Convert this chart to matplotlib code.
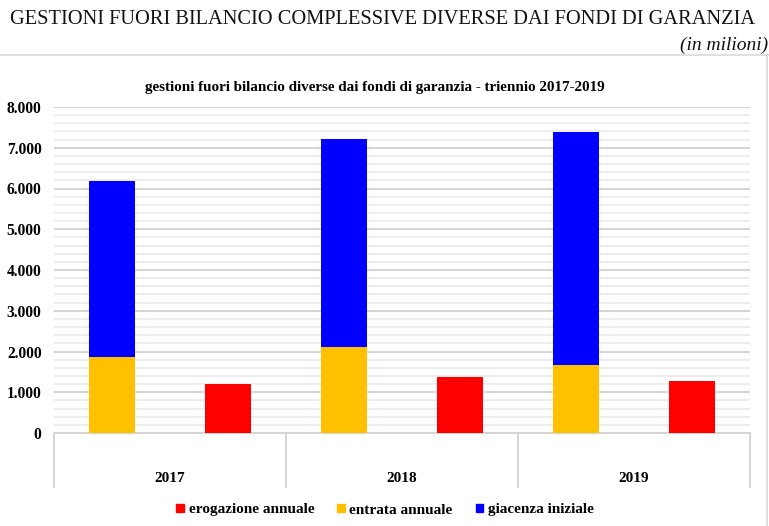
import matplotlib
matplotlib.use("Agg")
import matplotlib.pyplot as plt
from matplotlib.lines import Line2D
from matplotlib.patches import Patch

# Data (millions)
years = ["2017", "2018", "2019"]
entrata_annuale = [1855, 2118, 1659]
giacenza_iniziale = [4339, 5105, 5736]
erogazione_annuale = [1201, 1373, 1284]
y_ticks = [0, 1000, 2000, 3000, 4000, 5000, 6000, 7000, 8000]
y_tick_labels = ["0", "1.000", "2.000", "3.000", "4.000", "5.000", "6.000", "7.000", "8.000"]

RED = "#FF0000"
YELLOW = "#FFC000"
BLUE = "#0000FF"
SERIF = ["Liberation Serif", "DejaVu Serif"]

W, H = 769, 526
fig = plt.figure(figsize=(W / 100, H / 100), dpi=100)

def fx(px):
    return px / W

def fy(py):
    return 1 - py / H

# Page heading
fig.text(fx(383), fy(20), "GESTIONI FUORI BILANCIO COMPLESSIVE DIVERSE DAI FONDI DI GARANZIA",
         ha="center", va="center", family=SERIF, fontsize=14.7, color="#111111")
fig.text(fx(768), fy(45), "(in milioni)", ha="right", va="center", family=SERIF,
         fontsize=14, style="italic", color="#111111")

# Chart frame lines
fig.add_artist(Line2D([0, 1], [fy(55), fy(55)], color="#d9d9d9", lw=1.2))
fig.add_artist(Line2D([fx(767), fx(767)], [fy(55), 0], color="#d9d9d9", lw=1.2))

# Plot area
left, right, top, bottom = 54, 750, 107, 433
ax = fig.add_axes([fx(left), fy(bottom), fx(right - left), (bottom - top) / H])

n = len(years)
stack_x = [i + 0.25 for i in range(n)]
red_x = [i + 0.75 for i in range(n)]
bw = 0.2

ax.bar(stack_x, entrata_annuale, width=bw, color=YELLOW, zorder=3)
ax.bar(stack_x, giacenza_iniziale, width=bw, bottom=entrata_annuale, color=BLUE, zorder=3)
ax.bar(red_x, erogazione_annuale, width=bw, color=RED, zorder=3)

ax.set_xlim(0, n)
ax.set_ylim(0, 8000)

# Gridlines
ax.set_yticks(y_ticks)
ax.set_yticklabels(y_tick_labels, family=SERIF, fontweight="bold", fontsize=11.2)
ax.set_yticks(range(0, 8001, 200), minor=True)
ax.yaxis.grid(True, which="minor", color="#ececec", lw=1.3, zorder=0)
ax.yaxis.grid(True, which="major", color="#d4d4d4", lw=1.4, zorder=1)
ax.tick_params(axis="y", which="both", length=0, pad=9)
ax.set_xticks([])
for s in ["top", "right", "left"]:
    ax.spines[s].set_visible(False)
ax.spines["bottom"].set_color("#d4d4d4")
ax.spines["bottom"].set_linewidth(1.4)

# Category box below the axis
box_depth = (487 - bottom) / (bottom - top)
for i in range(n + 1):
    ax.add_line(Line2D([i, i], [0, -box_depth], transform=ax.get_xaxis_transform(),
                       color="#d4d4d4", lw=1.4, clip_on=False))
label_y = -(478 - bottom) / (bottom - top)
for i, yr in enumerate(years):
    ax.text(i + 0.5, label_y, yr, transform=ax.get_xaxis_transform(), ha="center",
            va="center", family=SERIF, fontweight="bold", fontsize=11)

# Chart title
fig.text(fx(375), fy(87), "gestioni fuori bilancio diverse dai fondi di garanzia - triennio 2017-2019",
         ha="center", va="center", family=SERIF, fontweight="bold", fontsize=10.9)

# Legend
handles = [Patch(color=RED, label="erogazione annuale"),
           Patch(color=YELLOW, label="entrata annuale"),
           Patch(color=BLUE, label="giacenza iniziale")]
fig.legend(handles=handles, loc="center", bbox_to_anchor=(fx(385), fy(510)), ncol=3,
           frameon=False, prop={"family": SERIF, "weight": "bold", "size": 11},
           handlelength=0.5, handleheight=0.5, handletextpad=0.3, columnspacing=1.5)

fig.savefig("out.png", dpi=100, facecolor="white")
